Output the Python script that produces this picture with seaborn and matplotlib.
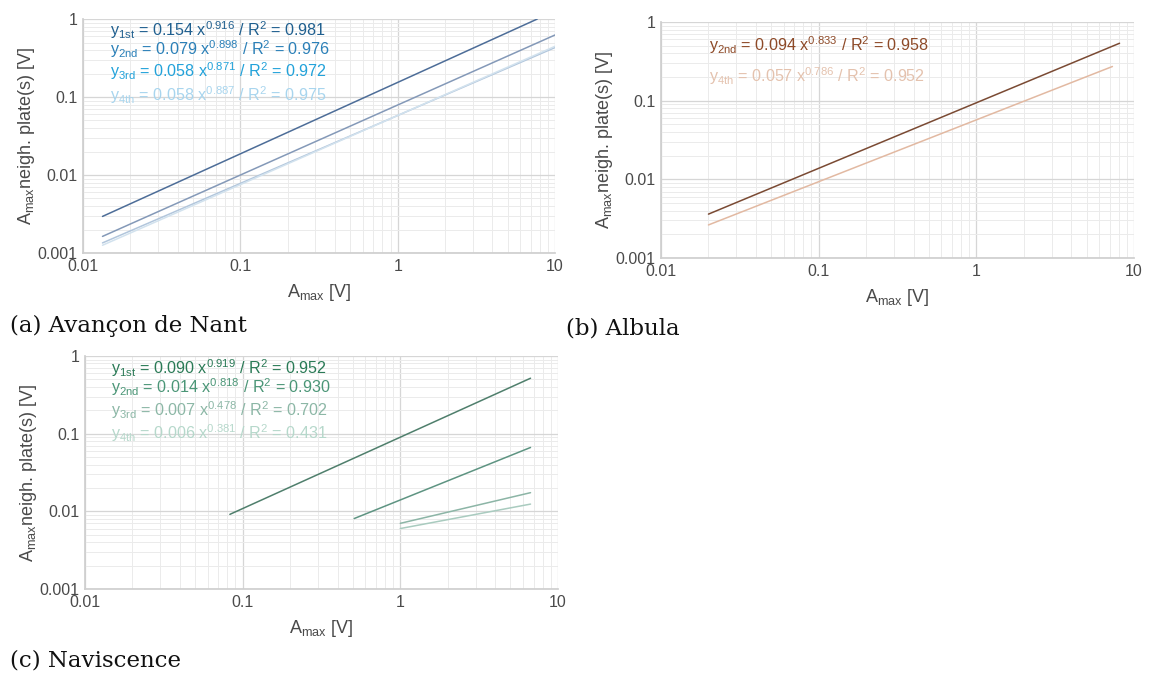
import numpy as np
import pandas as pd
import matplotlib
matplotlib.use("Agg")
import matplotlib.pyplot as plt
import seaborn as sns

# Power-law fits y = a * x^b for the neighbouring plates, per site
orders_a = ["1st", "2nd", "3rd", "4th"]
coef_a = [0.154, 0.079, 0.058, 0.058]
expo_a = [0.916, 0.898, 0.871, 0.887]
r2_a = [0.981, 0.976, 0.972, 0.975]
xmin_a = [0.0133, 0.0133, 0.0133, 0.0133]
xmax_a = [7.7, 10.0, 10.0, 10.0]

orders_b = ["2nd", "4th"]
coef_b = [0.094, 0.057]
expo_b = [0.833, 0.786]
r2_b = [0.958, 0.952]
xmin_b = [0.020, 0.020]
xmax_b = [8.1, 7.3]

orders_c = ["1st", "2nd", "3rd", "4th"]
coef_c = [0.090, 0.014, 0.007, 0.006]
expo_c = [0.919, 0.818, 0.478, 0.381]
r2_c = [0.952, 0.930, 0.702, 0.431]
xmin_c = [0.083, 0.51, 1.0, 1.0]
xmax_c = [6.7, 6.7, 6.7, 6.7]

captions = ["(a) Avançon de Nant", "(b) Albula", "(c) Naviscence"]

line_cols_a = ["#4d6d98", "#8499b8", "#b2c6dc", "#d2e2ee"]
text_cols_a = ["#1f5f8f", "#2b80b8", "#22a2da", "#a8d5ee"]
line_cols_b = ["#7a4a33", "#e2b9a2"]
text_cols_b = ["#8e4a28", "#e4c2ae"]
line_cols_c = ["#4f7f6c", "#5e9482", "#8cb5a6", "#a9cbbf"]
text_cols_c = ["#2a7a56", "#4b9677", "#8cb7a6", "#b6d8cb"]

sns.set_theme(style="whitegrid")
plt.rcParams["font.family"] = ["Liberation Sans", "DejaVu Sans"]
plt.rcParams["mathtext.default"] = "regular"

fig = plt.figure(figsize=(11.53, 6.77), dpi=100)
ax_a = fig.add_axes([0.0720, 0.6263, 0.4094, 0.3456])
ax_b = fig.add_axes([0.5733, 0.6189, 0.4102, 0.3486])
ax_c = fig.add_axes([0.0737, 0.1300, 0.4102, 0.3442])


def fit_frame(orders, coef, expo, xmin, xmax):
    rows = []
    for o, a, b, lo, hi in zip(orders, coef, expo, xmin, xmax):
        xs = np.geomspace(lo, hi, 40)
        rows.append(pd.DataFrame({"x": xs, "y": a * xs ** b, "order": o}))
    return pd.concat(rows, ignore_index=True)


def panel(ax, orders, coef, expo, r2, xmin, xmax, lcols, tcols, tx, tys):
    df = fit_frame(orders, coef, expo, xmin, xmax)
    sns.lineplot(data=df, x="x", y="y", hue="order", hue_order=orders,
                 palette=dict(zip(orders, lcols)), linewidth=1.1,
                 legend=False, ax=ax, sort=False)
    ax.set_xscale("log")
    ax.set_yscale("log")
    ax.set_xlim(0.01, 10)
    ax.set_ylim(0.001, 1)
    ax.set_facecolor("white")
    ax.grid(True, which="major", color="#d6d6d6", linewidth=0.9)
    ax.grid(True, which="minor", color="#ebebeb", linewidth=0.7)
    ax.set_axisbelow(True)
    for s in ax.spines.values():
        s.set_visible(False)
    ax.spines["left"].set_visible(True)
    ax.spines["bottom"].set_visible(True)
    ax.spines["left"].set_color("#cfcfcf")
    ax.spines["bottom"].set_color("#cfcfcf")
    ax.set_xticks([0.01, 0.1, 1, 10])
    ax.set_xticklabels(["0.01", "0.1", "1", "10"])
    ax.set_yticks([0.001, 0.01, 0.1, 1])
    ax.set_yticklabels(["0.001", "0.01", "0.1", "1"])
    ax.tick_params(axis="both", which="both", length=0, labelsize=11.5,
                   labelcolor="#4a4a4a", pad=4)
    ax.set_xlabel("A$_{max}$ [V]", fontsize=13, color="#4a4a4a", labelpad=6)
    ax.set_ylabel("A$_{max}$neigh. plate(s) [V]", fontsize=13,
                  color="#4a4a4a")
    ax.yaxis.set_label_coords(-0.098, 0.5)
    for o, a, b, r, c, ty in zip(orders, coef, expo, r2, tcols, tys):
        ax.text(tx, ty,
                f"y$_{{{o}}}$ = {a:.3f} x$^{{{b:.3f}}}$ / R$^{{2}}$ = {r:.3f}",
                transform=ax.transAxes, fontsize=11.6, color=c,
                ha="left", va="baseline")


panel(ax_a, orders_a, coef_a, expo_a, r2_a, xmin_a, xmax_a,
      line_cols_a, text_cols_a, 0.057, [0.929, 0.847, 0.751, 0.648])
panel(ax_b, orders_b, coef_b, expo_b, r2_b, xmin_b, xmax_b,
      line_cols_b, text_cols_b, 0.102, [0.879, 0.746])
panel(ax_c, orders_c, coef_c, expo_c, r2_c, xmin_c, xmax_c,
      line_cols_c, text_cols_c, 0.054, [0.924, 0.842, 0.742, 0.642])

cap_kw = dict(fontsize=16.5, color="#111111", family=["DejaVu Serif"],
              ha="left", va="center")
fig.text(10 / 1153, 1 - 326 / 677, captions[0], **cap_kw)
fig.text(566 / 1153, 1 - 328 / 677, captions[1], **cap_kw)
fig.text(10 / 1153, 1 - 660 / 677, captions[2], **cap_kw)

fig.savefig("out.png", dpi=100, facecolor="white")
